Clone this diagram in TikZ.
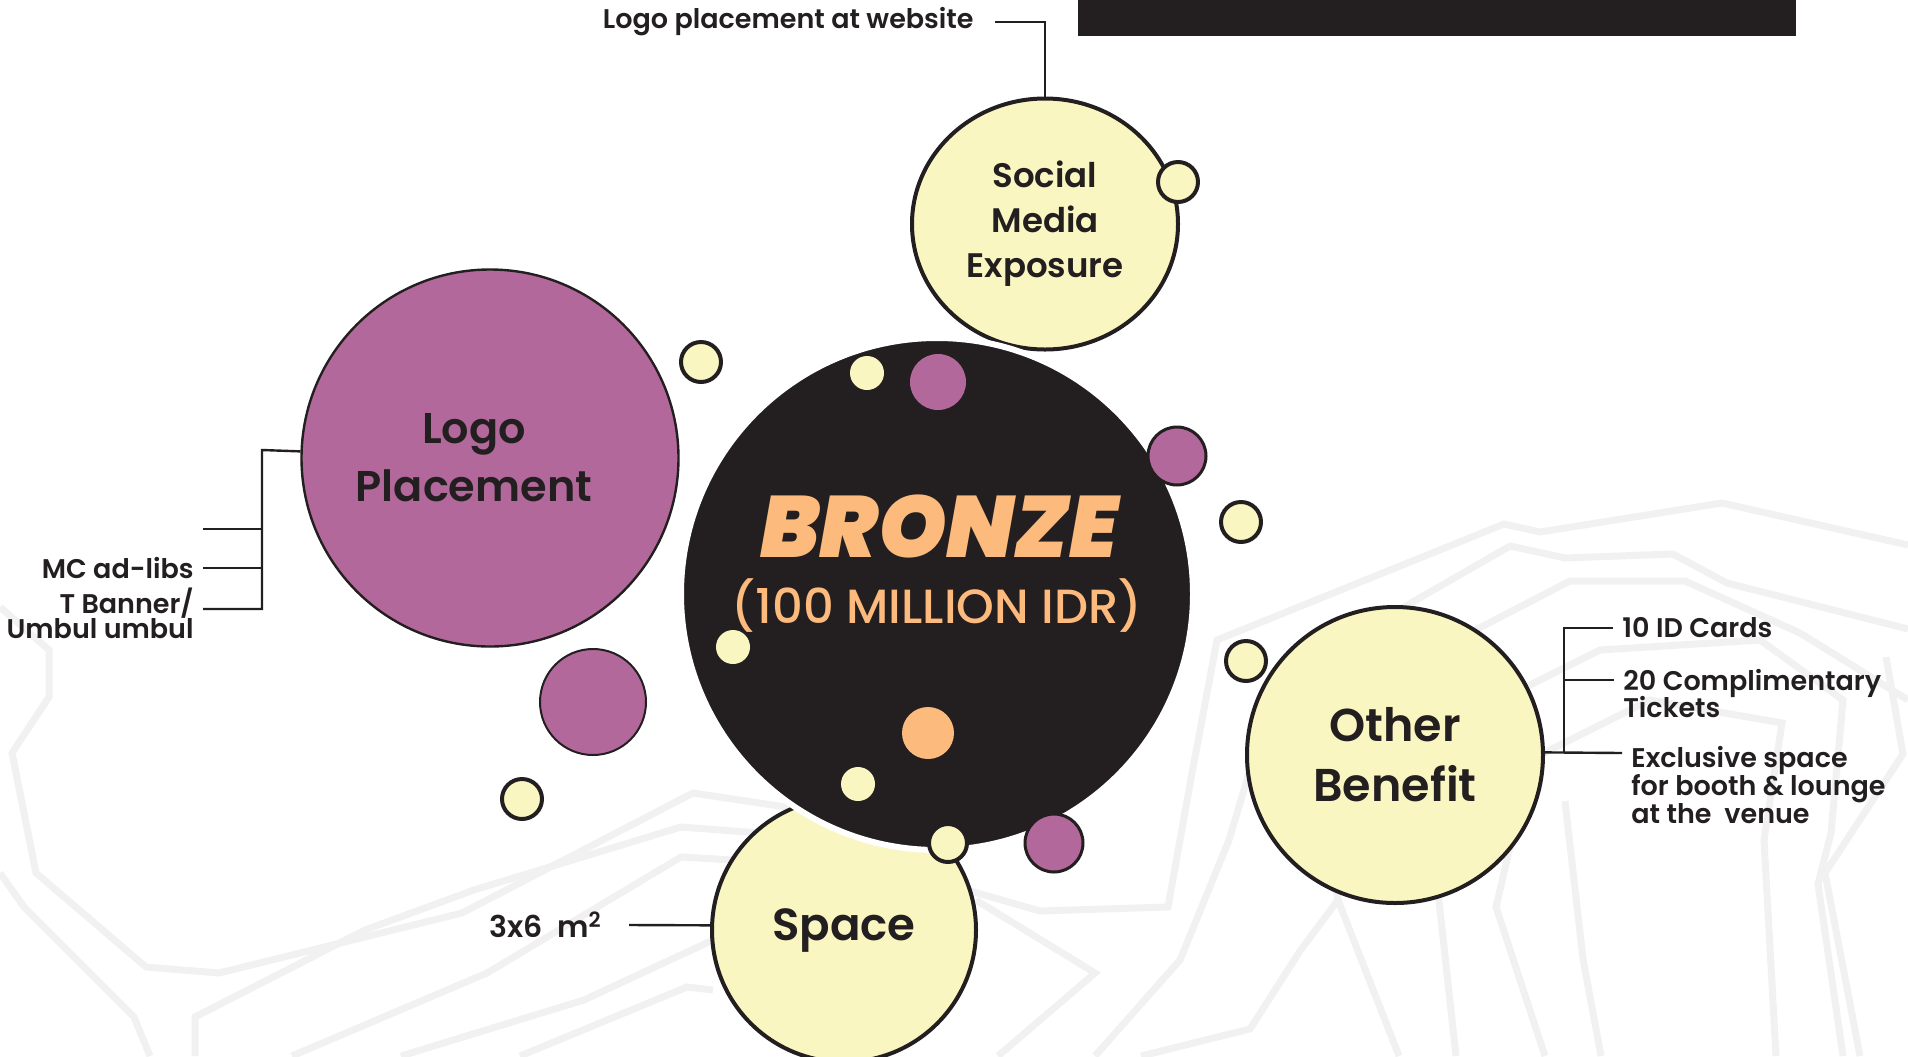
\documentclass[tikz,border=0pt]{standalone}
\usepackage{fontspec}
\setmainfont{Poppins}
\newfontfamily\semifont{Poppins SemiBold}
\newfontfamily\medfont{Poppins Medium}
\newfontfamily\heavyfont{Poppins Black Italic}
\usetikzlibrary{shapes.geometric,positioning}

\definecolor{inkblack}{HTML}{231F20}
\definecolor{plum}{HTML}{B3689B}
\definecolor{creme}{HTML}{F9F6C1}
\definecolor{peach}{HTML}{FDBA7D}
\definecolor{bgline}{HTML}{F1F1F1}

\begin{document}
\lineskiplimit=-\maxdimen
\begin{tikzpicture}[
    x=0.5pt, y=-0.5pt,
    bubble/.style={circle, inner sep=0pt, align=center, text=inkblack, font=\semifont},
    cremebig/.style={bubble, fill=creme, draw=inkblack, line width=2pt},
    ring/.style={circle, inner sep=0pt, fill=creme, draw=inkblack, line width=2pt},
    speck/.style={circle, inner sep=0pt},
    tag/.style={inner xsep=4.5pt, inner ysep=0pt, text=inkblack, font=\semifont\fontsize{13.5}{12.5}\selectfont},
    leg/.style={draw=inkblack, line width=1.2pt},
    contour/.style={draw=bgline, line width=3.5pt, line join=miter}
]
    \useasboundingbox (0,0) rectangle (1908,1056);

    % Background contours
    \draw [contour] (0,607) -- (49,650) -- (49,697) -- (12,753) -- (36,873) -- (146,967) -- (219,973) -- (462,913) -- (693,793) -- (852,817);
    \draw [contour] (0,873) -- (24,907) -- (134,1017) -- (150,1056);
    \draw [contour] (195,1056) -- (195,1017) -- (365,930) -- (474,890) -- (681,827) -- (852,840);
    \draw [contour] (292,1056) -- (487,973) -- (681,857) -- (852,867);
    \draw [contour] (401,1056) -- (584,1000) -- (713,940);
    \draw [contour] (520,1056) -- (687,987) -- (713,990);
    \draw [contour] (976,900) -- (1095,973) -- (998,1056);
    \draw [contour] (960,888) -- (1040,911) -- (1168,907) -- (1192,773) -- (1217,640) -- (1504,524) -- (1540,532) -- (1722,503) -- (1908,545);
    \draw [contour] (1095,1056) -- (1180,960) -- (1229,840) -- (1277,680) -- (1510,546) -- (1565,558) -- (1673,554) -- (1727,583) -- (1908,629);
    \draw [contour] (1141,1056) -- (1250,1029) -- (1300,951) -- (1338,900) -- (1320,800) -- (1340,700) -- (1570,581) -- (1685,581) -- (1800,633) -- (1908,700);
    \draw [contour] (1399,1056) -- (1338,900);
    \draw [contour] (1456,1056) -- (1438,892) -- (1420,800) -- (1460,720) -- (1600,650) -- (1760,640) -- (1843,700) -- (1831,833) -- (1818,884) -- (1843,1056);
    \draw [contour] (1545,1056) -- (1496,907) -- (1530,760) -- (1650,700) -- (1782,723) -- (1764,840) -- (1776,1056);
    \draw [contour] (1601,1056) -- (1583,959) -- (1565,801);
    \draw [contour] (1886,657) -- (1903,754) -- (1825,873) -- (1860,1056);

    % Top bar
    \fill [inkblack] (1078,0) rectangle (1796,36);

    % Benefit bubbles
    \node [cremebig, ellipse, minimum width=133pt, minimum height=125.5pt, font=\semifont\fontsize{17}{22.5}\selectfont] (social) at (1045,224) {Social\\Media\\Exposure};
    \node [bubble, fill=plum, draw=inkblack, line width=1.2pt, minimum size=188.5pt,
        label={[font=\semifont\fontsize{21.5}{29}\selectfont, align=center, text=inkblack, xshift=-8pt]center:Logo\\Placement}] (logo) at (490,458) {};
    \node [cremebig, minimum size=148pt, font=\semifont\fontsize{23}{30}\selectfont] (other) at (1395,755) {Other\\Benefit};
    \node [cremebig, minimum size=132pt, font=\semifont\fontsize{22.5}{22.5}\selectfont] (space) at (844,930) {Space};

    % Tier bubble
    \node [speck, fill=inkblack, draw=white, line width=3pt, minimum size=256pt] (bronze) at (937,594) {};
    \node [font=\heavyfont\fontsize{43.5}{43.5}\selectfont, text=peach, anchor=base] (tier) at (939,557) {BRONZE};
    \node [font=\medfont\fontsize{24}{24}\selectfont, text=peach, anchor=base] (price) at (937,623) {(100 MILLION IDR)};

    % Small dots
    \node [ring, minimum size=20pt] (d1) at (701,362) {};
    \node [ring, minimum size=20pt] (d2) at (1178,182) {};
    \node [ring, minimum size=20pt] (d3) at (1241,522) {};
    \node [ring, minimum size=20pt] (d4) at (1246,661) {};
    \node [ring, minimum size=20pt] (d5) at (522,799) {};
    \node [ring, minimum size=19pt] (d6) at (948,843) {};
    \node [speck, fill=creme, minimum size=17pt] (d7) at (867,373) {};
    \node [speck, fill=creme, minimum size=17pt] (d8) at (733,647) {};
    \node [speck, fill=creme, minimum size=17pt] (d9) at (858,784) {};
    \node [speck, fill=plum, minimum size=28pt] (d10) at (938,382) {};
    \node [speck, fill=peach, minimum size=26pt] (d11) at (928,733) {};
    \node [speck, fill=plum, draw=inkblack, line width=1.5pt, minimum size=29pt] (d12) at (1177,456) {};
    \node [speck, fill=plum, draw=inkblack, line width=1.5pt, minimum size=29pt] (d13) at (1054,843) {};
    \node [speck, fill=plum, draw=inkblack, line width=1pt, minimum size=53pt] (d14) at (593,702) {};

    % Social Media label
    \node [tag, anchor=east, inner xsep=10.5pt] (site) at (995,22) {Logo placement at website};
    \draw [leg] (social.north) -- (social.north |- site.east) -- (site.east);

    % Logo Placement labels
    \coordinate (lspine) at (262,450);
    \coordinate (blank) at (203,529);
    \node [tag, anchor=east] (mc) at (203,568) {MC ad-libs};
    \node [tag, anchor=north east, align=right] (banner) at (203,588) {T Banner/\\Umbul umbul};
    \draw [leg] (logo.178) -- (lspine) |- ([yshift=-10.5pt]banner.north east);
    \draw [leg] (lspine |- blank) -- (blank);
    \draw [leg] (lspine |- mc.east) -- (mc.east);

    % Space label
    \node [tag, anchor=east, inner xsep=13.5pt, font=\semifont\fontsize{15}{15}\selectfont] (area) at (629,925) {3x6~~m\textsuperscript{2}};
    \draw [leg] (space.178) -- (area.east);

    % Other Benefit labels
    \coordinate (rspine) at (1564,753);
    \node [tag, anchor=west] (cards) at (1613,628) {10 ID Cards};
    \node [tag, anchor=north west, align=left, font=\semifont\fontsize{13.5}{13.5}\selectfont] (perks) at (1614,669) {20 Complimentary\\Tickets};
    \node [tag, anchor=north west, align=left, font=\semifont\fontsize{13.5}{14}\selectfont] (booth) at (1622,746) {Exclusive space\\for booth \& lounge\\at the~~venue};
    \draw [leg] (other.1) -- ([yshift=-3.5pt]booth.north west);
    \draw [leg] (cards.west) -| (rspine);
    \draw [leg] ([yshift=-5.5pt]perks.north west) -| (rspine);

\end{tikzpicture}
\end{document}
